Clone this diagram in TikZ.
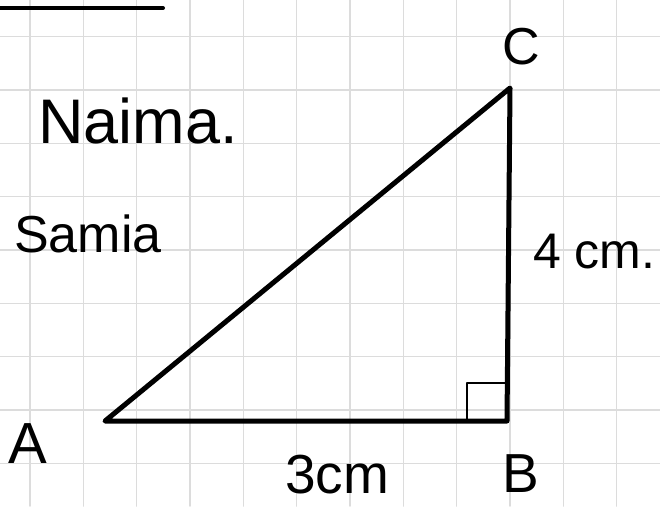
\documentclass[tikz,border=0pt]{standalone}
\usepackage{fontspec}
\setmainfont{Liberation Sans}
\usepackage{tikz}
\usetikzlibrary{arrows.meta,calc}
\definecolor{gridgray}{HTML}{DCDCDC}
\tikzset{
  every picture/.style={line join=round, line cap=round, x=1pt, y=-1pt},
  gridline/.style={gridgray, line width=1.6pt},
  side/.style={black, line width=5pt},
  anglemark/.style={black, line width=2.2pt},
  hand/.style={inner sep=0pt, anchor=base west, font=\fontsize{#1}{#1}\selectfont},
}

\begin{document}
\begin{tikzpicture}
\useasboundingbox (0,0) rectangle (660,506);
\fill[white] (0,0) rectangle (660,506);
\foreach \gx in {30,83.33,...,620} \draw[gridline] (\gx,0)--(\gx,506);
\foreach \gy in {36.67,90,...,500} \draw[gridline] (0,\gy)--(660,\gy);
\draw[black,line width=4pt] (0,8)--(163,8);
\coordinate (A) at (105,421);
\coordinate (B) at (507,421);
\coordinate (C) at (510,88);
\draw[side] (A)--(B)--(C)--cycle;
\draw[anglemark] ($(B)+(0,-38)$)--($(B)+(-40,-38)$)--($(B)+(-40,0)$);
\node[hand=63] (naima) at (38,143) {Naima.};
\node[hand=52] (samia) at (14,252) {Samia};
\node[hand=50] (sideBC) at (533,268) {4 cm.};
\node[hand=55] (sideAB) at (285,493) {3cm};
\node[hand=58] (labA) at (8,463) {A};
\node[hand=55] (labB) at (502,492) {B};
\node[hand=52] (labC) at (502,64) {C};
\end{tikzpicture}
\end{document}
